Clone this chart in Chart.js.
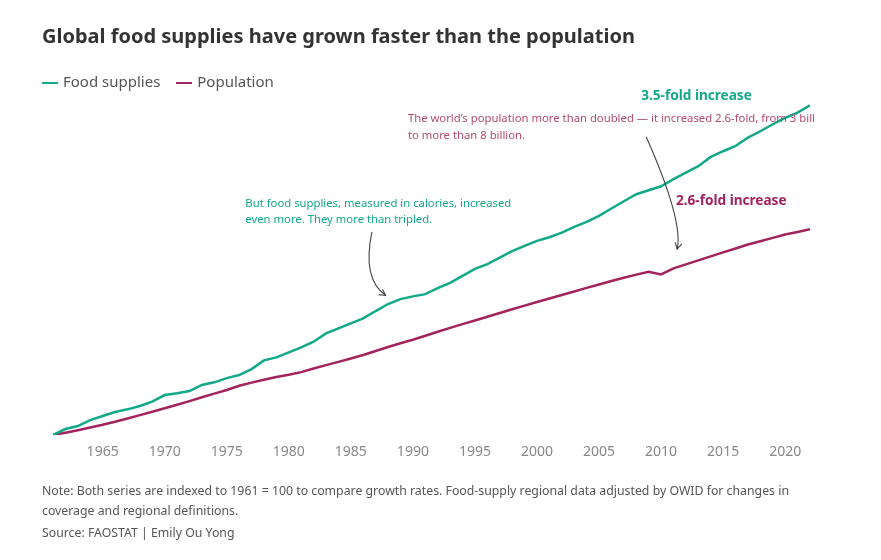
<!DOCTYPE html>
<html>
<head>
<meta charset="utf-8">
<script src="https://cdn.jsdelivr.net/npm/chart.js@4/dist/chart.umd.min.js"></script>
<style>
  body { margin: 0; background: #fff; font-family: "Noto Sans", sans-serif; }
  #wrap { position: relative; width: 881px; height: 560px; overflow: hidden; }
  #title { position: absolute; left: 42px; top: 22px; font-size: 20px; font-weight: bold; color: #333; white-space: nowrap; }
  #legend { position: absolute; left: 42px; top: 71px; font-size: 15px; color: #555; white-space: nowrap; }
  #legend span.sw { display: inline-block; width: 16px; height: 2px; vertical-align: middle; margin-right: 5px; }
  #legend span.item { margin-right: 12px; }
  #notes { position: absolute; left: 42px; top: 481px; width: 780px; font-size: 12.3px; color: #555; line-height: 20px; }
  canvas { position: absolute; left: 0; top: 0; }
</style>
</head>
<body>
<div id="wrap">
  <canvas id="chart" width="881" height="560"></canvas>
  <div id="title">Global food supplies have grown faster than the population</div>
  <div id="legend">
    <span class="item"><span class="sw" style="background:#12a88a"></span>Food supplies</span>
    <span class="item"><span class="sw" style="background:#a3235e"></span>Population</span>
  </div>
  <div id="notes">
    Note: Both series are indexed to 1961 = 100 to compare growth rates. Food-supply regional data adjusted by OWID for changes in coverage and regional definitions.<br>
    <span style="display:block;margin-top:2px">Source: FAOSTAT | Emily Ou Yong</span>
  </div>
</div>
<script>
// years and indexed values (1961 = 100)
var years = [];
for (var y = 1961; y <= 2022; y++) years.push(y);

var foodSupplies = [
  100, 104.5, 106.8, 111.3, 114.4, 117.4, 119.4, 121.9, 125.2, 130.2,
  131.5, 133.2, 137.8, 139.8, 143, 145.3, 149.8, 156.4, 158.7, 162.5,
  166.3, 170.5, 176.8, 180.6, 184.4, 188.1, 193.7, 199, 202.7, 204.8,
  206.5, 211, 215, 220.3, 225.6, 229.2, 234, 239, 243, 246.7,
  249.5, 253, 257.3, 261.1, 265.6, 271.2, 276.7, 282, 285, 288,
  293.4, 298.4, 303.2, 310.2, 314.5, 318.5, 324.8, 329.6, 334.9, 339.7,
  343.7, 349.2
];

var population = [
  100, 101.7, 103.6, 105.6, 107.8, 110, 112.5, 115, 117.6, 120.2,
  122.9, 125.6, 128.5, 131.3, 134, 137.2, 139.6, 141.8, 143.9, 145.5,
  147.5, 150.3, 152.8, 155.3, 157.8, 160.5, 163.5, 166.5, 169.3, 172,
  175, 178, 181, 183.8, 186.6, 189.4, 192.2, 195, 197.8, 200.5,
  203.2, 205.8, 208.5, 211.2, 213.8, 216.4, 218.8, 221.2, 223.4, 221.4,
  226, 229, 232, 235, 238, 241, 244, 246.5, 249, 251.5,
  253.5, 255.6
];

var tickYears = [1965, 1970, 1975, 1980, 1985, 1990, 1995, 2000, 2005, 2010, 2015, 2020];

var TEAL = "#12a88a";
var CRIMSON = "#a3235e";

function toPoints(vals) {
  return vals.map(function (v, i) { return { x: years[i], y: v }; });
}

// annotations: texts and curved arrows anchored to the scales
var annotations = {
  id: "annotations",
  afterDatasetsDraw: function (chart) {
    var ctx = chart.ctx;
    var xs = chart.scales.x, ys = chart.scales.y;
    ctx.save();
    ctx.textBaseline = "middle";

    ctx.font = "11.3px 'Noto Sans'";
    ctx.fillStyle = TEAL;
    ctx.fillText("But food supplies, measured in calories, increased", xs.getPixelForValue(1976.5), ys.getPixelForValue(274.5));
    ctx.fillText("even more. They more than tripled.", xs.getPixelForValue(1976.5), ys.getPixelForValue(262.5));

    ctx.fillStyle = "#b54a72";
    ctx.fillText("The world\u2019s population more than doubled \u2014 it increased 2.6-fold, from 3 bill", xs.getPixelForValue(1989.6), ys.getPixelForValue(339));
    ctx.fillText("to more than 8 billion.", xs.getPixelForValue(1989.6), ys.getPixelForValue(326.3));

    ctx.font = "bold 13.6px 'Noto Sans'";
    ctx.fillStyle = TEAL;
    ctx.fillText("3.5-fold increase", xs.getPixelForValue(2008.4), ys.getPixelForValue(356));
    ctx.fillStyle = CRIMSON;
    ctx.fillText("2.6-fold increase", xs.getPixelForValue(2011.2), ys.getPixelForValue(277));

    function arrow(x0, y0, cx, cy, x1, y1) {
      var p0 = [xs.getPixelForValue(x0), ys.getPixelForValue(y0)];
      var c = [xs.getPixelForValue(cx), ys.getPixelForValue(cy)];
      var p1 = [xs.getPixelForValue(x1), ys.getPixelForValue(y1)];
      ctx.strokeStyle = "#444";
      ctx.lineWidth = 1.1;
      ctx.beginPath();
      ctx.moveTo(p0[0], p0[1]);
      ctx.quadraticCurveTo(c[0], c[1], p1[0], p1[1]);
      ctx.stroke();
      var a = Math.atan2(p1[1] - c[1], p1[0] - c[0]);
      ctx.beginPath();
      ctx.moveTo(p1[0] - 7 * Math.cos(a - 0.5), p1[1] - 7 * Math.sin(a - 0.5));
      ctx.lineTo(p1[0], p1[1]);
      ctx.lineTo(p1[0] - 7 * Math.cos(a + 0.5), p1[1] - 7 * Math.sin(a + 0.5));
      ctx.stroke();
    }
    arrow(1986.7, 253.5, 1985.9, 218, 1987.8, 205.5);
    arrow(2008.8, 325.5, 2011.8, 262, 2011.3, 240.5);
    ctx.restore();
  }
};

new Chart(document.getElementById("chart").getContext("2d"), {
  type: "line",
  data: {
    datasets: [
      {
        label: "Food supplies",
        data: toPoints(foodSupplies),
        borderColor: TEAL,
        borderWidth: 2.5,
        pointRadius: 0,
        tension: 0
      },
      {
        label: "Population",
        data: toPoints(population),
        borderColor: CRIMSON,
        borderWidth: 2.5,
        pointRadius: 0,
        tension: 0
      }
    ]
  },
  options: {
    responsive: false,
    animation: false,
    layout: { padding: { left: 53, right: 71, top: 95, bottom: 0 } },
    plugins: { legend: { display: false }, tooltip: { enabled: false } },
    scales: {
      x: {
        type: "linear",
        min: 1961,
        max: 2022,
        afterFit: function (s) { s.height = 125; },
        afterBuildTicks: function (s) {
          s.ticks = tickYears.map(function (v) { return { value: v }; });
        },
        grid: { display: false, drawTicks: false },
        border: { display: false },
        ticks: {
          color: "#888",
          font: { family: "Noto Sans", size: 14 },
          padding: 9,
          maxRotation: 0,
          autoSkip: false,
          callback: function (v) { return String(v); }
        }
      },
      y: {
        display: false,
        min: 100,
        max: 357
      }
    }
  },
  plugins: [annotations]
});
</script>
</body>
</html>
